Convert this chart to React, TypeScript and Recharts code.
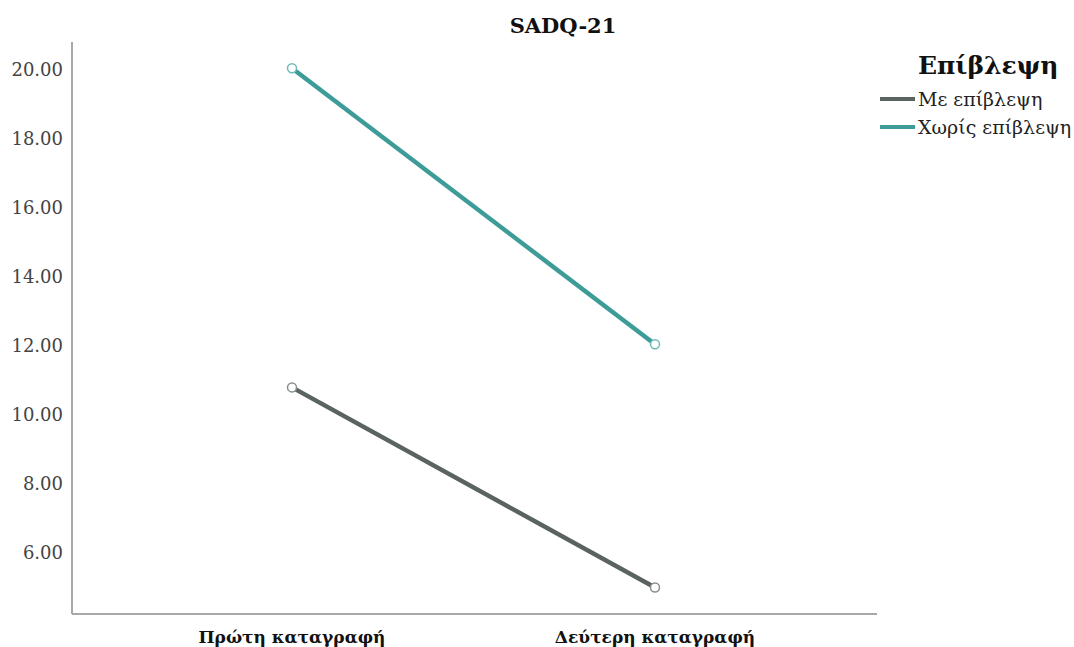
import React from "react";
import { LineChart, Line, XAxis, YAxis, Customized } from "recharts";

const categories = ["Πρώτη καταγραφή", "Δεύτερη καταγραφή"];
const withSupervision = [10.8, 5.0];
const withoutSupervision = [20.05, 12.05];
const yTicks = [6, 8, 10, 12, 14, 16, 18, 20];
const seriesNames = ["Με επίβλεψη", "Χωρίς επίβλεψη"];
const seriesColors = ["#5b635f", "#3e9c98"];
const dotColors = ["#8a8f8c", "#6cbcb8"];

const data = categories.map((c, i) => ({
  name: c,
  a: withSupervision[i],
  b: withoutSupervision[i],
}));

const FONT = "'DejaVu Serif', 'Liberation Serif', serif";

const LegendBox = () => (
  <div style={{ position: "absolute", left: 880, top: 50, fontFamily: FONT, color: "#111", whiteSpace: "nowrap" }}>
    <div style={{ fontWeight: "bold", fontSize: 25, marginLeft: 38, lineHeight: "32px", marginBottom: 3 }}>Επίβλεψη</div>
    {seriesNames.map((n, i) => (
      <div key={n} style={{ display: "flex", alignItems: "center", height: 28, fontSize: 19, color: "#222" }}>
        <span style={{ display: "inline-block", width: 35, height: 4, background: seriesColors[i], marginRight: 3 }} />
        <span>{n}</span>
      </div>
    ))}
  </div>
);

const Title = () => (
  <text x={563} y={33} textAnchor="middle" fontFamily={FONT} fontWeight="bold" fontSize={21} fill="#111">
    SADQ-21
  </text>
);

export default function App() {
  return (
    <div style={{ position: "absolute", left: 0, top: 0, width: 1074, height: 647, background: "#fff" }}>
      <LineChart width={1074} height={647} data={data} margin={{ top: 42, right: 197, bottom: 3, left: 0 }}>
        <Customized component={Title} />
        <XAxis
          dataKey="name"
          padding={{ left: 220, right: 222 }}
          tickLine={false}
          axisLine={{ stroke: "#a8a8a8", strokeWidth: 2 }}
          height={30}
          tick={{ fontFamily: FONT, fontWeight: "bold", fontSize: 17, fill: "#111" }}
          dy={9}
        />
        <YAxis
          width={72}
          domain={[4.232, 20.81]}
          allowDataOverflow
          ticks={yTicks}
          tickFormatter={(v: number) => v.toFixed(2)}
          tickLine={false}
          axisLine={{ stroke: "#a8a8a8", strokeWidth: 2 }}
          tick={{ fontFamily: FONT, fontSize: 18, fill: "#444" }}
          dx={-1}
        />
        <Line
          type="linear"
          dataKey="a"
          name={seriesNames[0]}
          stroke={seriesColors[0]}
          strokeWidth={4.5}
          dot={{ r: 4.5, stroke: dotColors[0], strokeWidth: 1.5, fill: "#fff" }}
          isAnimationActive={false}
        />
        <Line
          type="linear"
          dataKey="b"
          name={seriesNames[1]}
          stroke={seriesColors[1]}
          strokeWidth={4.5}
          dot={{ r: 4.5, stroke: dotColors[1], strokeWidth: 1.5, fill: "#fff" }}
          isAnimationActive={false}
        />
      </LineChart>
      <LegendBox />
    </div>
  );
}
